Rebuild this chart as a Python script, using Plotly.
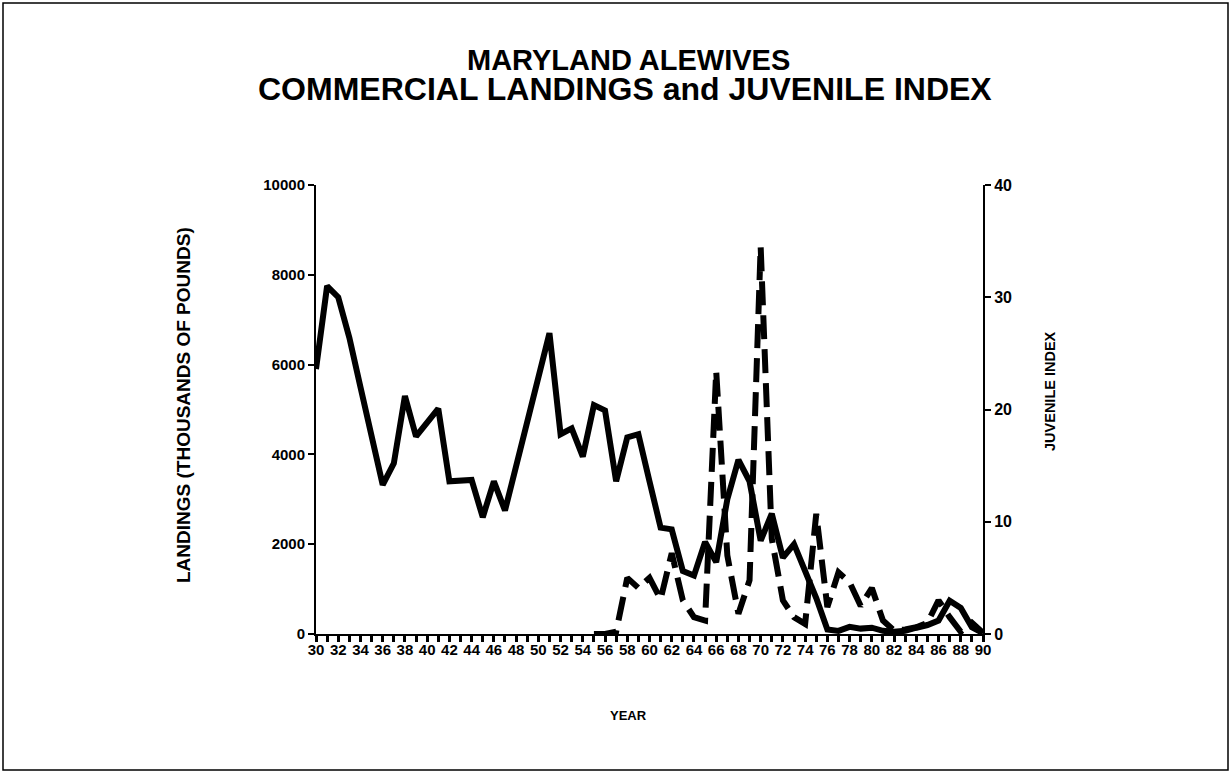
import plotly.graph_objects as go

# ---- data ----
landing_years = list(range(30, 91))
landings = [5900, 7750, 7500, 6600, 5500, 4400, 3320, 3800, 5300, 4400,
            4700, 5020, 3400, 3400, 3430, 2600, 3400, 2750, 3750, 4800,
            5800, 6700, 4450, 4580, 3950, 5100, 4980, 3400, 4380, 4450,
            3400, 2370, 2330, 1400, 1300, 2050, 1600, 3000, 3880, 3400,
            2080, 2680, 1700, 2000, 1400, 800, 100, 70, 160, 120,
            140, 70, 50, 70, 140, 200, 300, 740, 580, 150,
            20]
juv_years = list(range(55, 91))
juv_index = [0, 0, 0.2, 5.0, 4.1, 5.0, 3.1, 7.2, 3.0, 1.5,
             1.2, 23.4, 7.0, 1.8, 4.8, 34.5, 8.5, 3.0, 1.5, 0.9,
             10.7, 2.4, 5.5, 4.6, 2.5, 4.1, 1.2, 0.3, 0.4, 0.6,
             1.0, 3.0, 1.5, 0.2, 1.0, 0.1]
x_tickvals = list(range(30, 91))
x_ticktext = [str(y) if y % 2 == 0 else "" for y in x_tickvals]
left_ticks = [0, 2000, 4000, 6000, 8000, 10000]
left_ticktext = [str(v) for v in left_ticks]
right_ticks = [0, 10, 20, 30, 40]

FONT = "Liberation Sans, Arial, sans-serif"

fig = go.Figure()
fig.add_trace(go.Scatter(x=landing_years, y=landings, mode="lines",
                         line=dict(color="black", width=6), yaxis="y",
                         showlegend=False))
fig.add_trace(go.Scatter(x=juv_years, y=juv_index, mode="lines",
                         line=dict(color="black", width=6, dash="24px,10px"),
                         yaxis="y2", showlegend=False))

W, H = 1231, 773
L, R, T, B = 316, 983, 185, 634
fig.update_layout(
    width=W, height=H,
    margin=dict(l=L, r=W - R, t=T, b=H - B, autoexpand=False),
    paper_bgcolor="white", plot_bgcolor="white",
    font=dict(family=FONT, color="black"),
    xaxis=dict(range=[30, 90], tickvals=x_tickvals, ticktext=x_ticktext,
               ticks="outside", ticklen=6, tickwidth=3, tickcolor="black",
               showline=True, linecolor="black", linewidth=2, showgrid=False,
               zeroline=False, ticklabelstandoff=-5,
               tickfont=dict(size=15, family=FONT, weight="bold")),
    yaxis=dict(range=[0, 10000], tickvals=left_ticks, ticktext=left_ticktext,
               ticks="outside", ticklen=6, tickwidth=2, tickcolor="black",
               showline=True, linecolor="black", linewidth=2, showgrid=False,
               zeroline=False, tickfont=dict(size=15, family=FONT, weight="bold")),
    yaxis2=dict(range=[0, 40], tickvals=right_ticks, overlaying="y", side="right",
                ticks="outside", ticklen=6, tickwidth=2, tickcolor="black",
                showline=True, linecolor="black", linewidth=2, showgrid=False,
                zeroline=False, tickfont=dict(size=16, family=FONT, weight="bold")),
)

pw, ph = R - L, B - T
def px(x):
    return (x - L) / pw
def py(y):
    return (B - y) / ph

def ann(text, x, y, size, angle=0):
    fig.add_annotation(text=text, x=px(x), y=py(y), xref="paper", yref="paper",
                       showarrow=False, xanchor="center", yanchor="middle",
                       textangle=angle, borderpad=0,
                       font=dict(size=size, family=FONT, weight="bold", color="black"))

ann("MARYLAND ALEWIVES", 628, 60, 29)
ann("COMMERCIAL LANDINGS and JUVENILE INDEX", 625, 89, 32)
ann("LANDINGS (THOUSANDS OF POUNDS)", 183, 405, 19, -90)
ann("JUVENILE INDEX", 1050, 391, 14.5, -90)
ann("YEAR", 628, 715, 13)

fig.add_shape(type="rect", xref="paper", yref="paper",
              x0=px(3), x1=px(1228), y0=py(770), y1=py(3),
              line=dict(color="black", width=1.5))

fig.write_html("out.html", config={"displayModeBar": False},
               post_script="document.body.style.margin='0';")
